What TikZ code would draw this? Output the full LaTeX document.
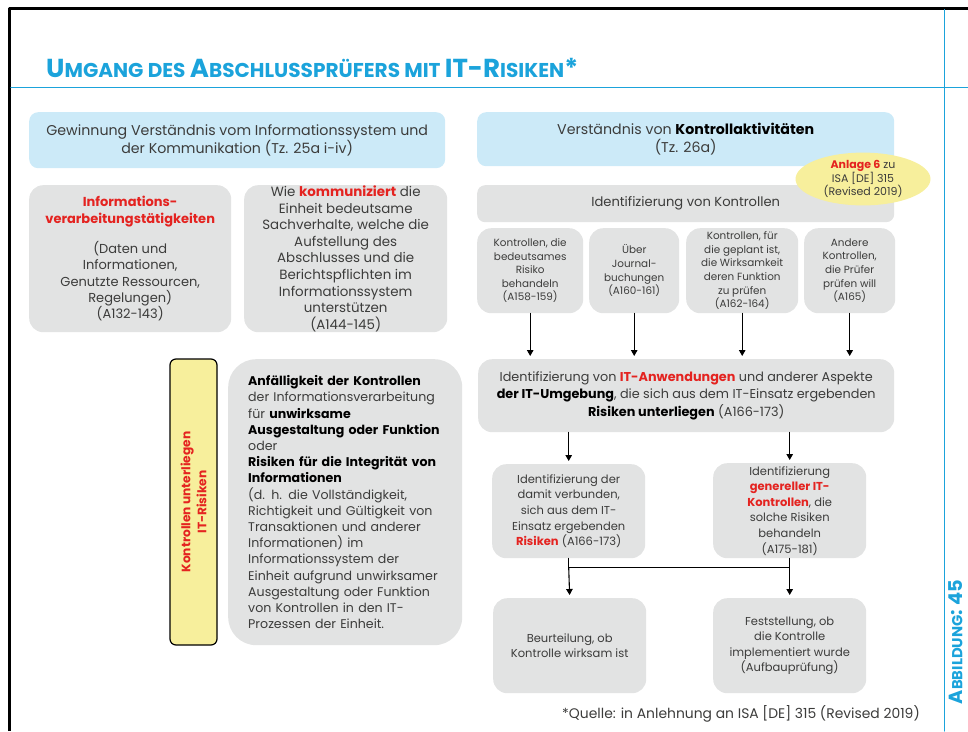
\documentclass[tikz,border=0pt]{standalone}
\usepackage{fontspec}
\setmainfont{Poppins}
\usepackage{graphicx}
\usepackage{xcolor}
\usetikzlibrary{arrows.meta,shapes.geometric}
\definecolor{boxgray}{HTML}{E2E3E3}
\definecolor{boxblue}{HTML}{CCEAF8}
\definecolor{isablue}{HTML}{1BA3DB}
\definecolor{hlred}{HTML}{E42320}
\definecolor{noteyellow}{HTML}{F7EF9C}
\definecolor{txtgray}{HTML}{3C3C3B}
\newcommand{\fs}[2]{\fontsize{#1}{#2}\selectfont}
\newcommand{\hl}[1]{\textcolor{hlred}{\bfseries #1}}
\newcommand{\bk}[1]{\textcolor{black}{\bfseries #1}}
\newcommand{\tbig}[1]{{\fs{26}{26}#1}}
\newcommand{\tsml}[1]{{\fs{20}{20}#1}}

\begin{document}
\begin{tikzpicture}[x=1pt,y=-1pt,line cap=round,line join=round,>={Triangle[length=6pt,width=6.5pt]},
  gbox/.style={fill=boxgray,rounded corners=14pt,anchor=north west,inner sep=0pt,align=center,text=txtgray},
  bbox/.style={gbox,fill=boxblue,rounded corners=9pt},
  kbox/.style={gbox,minimum height=85pt,font=\fs{10.4}{13.6}},
  link/.style={->,line width=1.1pt,shorten >=3pt}]
\useasboundingbox (0,0) rectangle (968,731);
% frame
\draw[line width=2.8pt,line cap=butt] (9.5,731) -- (9.5,8.3) -- (968,8.3);
\draw[isablue,line width=1pt] (944,9.5) -- (944,731);
\draw[isablue,line width=1.3pt] (11,87.3) -- (968,87.3);
\node[anchor=base west,inner sep=0pt,text=isablue,font=\bfseries] (titel) at (46,77)
  {\resizebox{532pt}{\height}{\tbig{U}\tsml{MGANG DES }\tbig{A}\tsml{BSCHLUSSPRÜFERS MIT }\tbig{IT-R}\tsml{ISIKEN}\tbig{*}}};
\node[rotate=90,inner sep=0pt,text=isablue,font=\bfseries] (abb) at (955.5,642)
  {\resizebox{124pt}{\height}{{\fs{19}{19}A}{\fs{14.5}{14.5}BBILDUNG}{\fs{19}{19}: 45}}};

% left column
\node[bbox,minimum width=416pt,minimum height=56pt,font=\fs{14.2}{18}] (gewinn) at (29,112)
  {Gewinnung Verständnis vom Informationssystem und\\der Kommunikation (Tz. 25a i-iv)};
\node[gbox,minimum width=202pt,minimum height=147pt,font=\fs{13}{16.3}] (infov) at (29,185)
  {\hl{Informations-}\\\hl{verarbeitungstätigkeiten}\\[14pt](Daten und\\Informationen,\\Genutzte Ressourcen,\\Regelungen)\\(A132-143)};
\node[gbox,minimum width=203pt,minimum height=147pt,font=\fs{13.4}{16.6}] (kommu) at (244,185)
  {Wie \hl{kommuniziert} die\\Einheit bedeutsame\\Sachverhalte, welche die\\Aufstellung des\\Abschlusses und die\\Berichtspflichten im\\Informationssystem\\unterstützen\\(A144-145)};
\node[rotate=90,fill=noteyellow,draw=black,line width=1.2pt,rounded corners=6pt,minimum width=286pt,minimum height=47pt,
  inner sep=0pt,align=center,text=hlred,font=\fs{12.2}{16}\bfseries] (itrisiken) at (193.5,502)
  {Kontrollen unterliegen\\IT-Risiken};
\node[gbox,rounded corners=28pt,minimum width=234pt,minimum height=286pt,text width=194pt,align=left,font=\fs{12.6}{16.2}] (anfall) at (228,359)
  {\bk{Anfälligkeit der Kontrollen}\\der Informationsverarbeitung\\für \bk{unwirksame}\\\bk{Ausgestaltung oder Funktion}\\oder\\
   \bk{Risiken für die Integrität von}\\\bk{Informationen}\\(d. h. die Vollständigkeit,\\Richtigkeit und Gültigkeit von\\Transaktionen und anderer\\
   Informationen) im\\Informationssystem der\\Einheit aufgrund unwirksamer\\Ausgestaltung oder Funktion\\von Kontrollen in den IT-\\Prozessen der Einheit.};

% right column
\node[bbox,minimum width=417pt,minimum height=54pt,font=\fs{14.2}{18}] (kontrakt) at (477,112)
  {Verständnis von \bk{Kontrollaktivitäten}\\(Tz. 26a)};
\node[gbox,rounded corners=8pt,minimum width=417pt,minimum height=37pt,font=\fs{13.1}{16}] (identk) at (477,185)
  {Identifizierung von Kontrollen};
\node[ellipse,fill=noteyellow,minimum width=135pt,minimum height=52pt,inner sep=0pt,align=center,text=txtgray,font=\fs{11}{12.8}] (anlage) at (863,179)
  {\hl{Anlage 6} zu\\ISA [DE] 315\\(Revised 2019)};
\node[kbox,minimum width=106pt] (k1) at (477,228) {Kontrollen, die\\bedeutsames\\Risiko\\behandeln\\(A158-159)};
\node[kbox,minimum width=90pt] (k2) at (589,228) {Über\\Journal-\\buchungen\\(A160-161)};
\node[kbox,minimum width=112pt] (k3) at (686,228) {Kontrollen, für\\die geplant ist,\\die Wirksamkeit\\deren Funktion\\zu prüfen\\(A162-164)};
\node[kbox,minimum width=91pt] (k4) at (804,228) {Andere\\Kontrollen,\\die Prüfer\\prüfen will\\(A165)};
\node[gbox,minimum width=416pt,minimum height=73pt,font=\fs{12.8}{17.5}] (itumg) at (478,359)
  {Identifizierung von \hl{IT-Anwendungen} und anderer Aspekte\\\bk{der IT-Umgebung}, die sich aus dem IT-Einsatz ergebenden\\\bk{Risiken unterliegen} (A166-173)};
\node[gbox,minimum width=153pt,minimum height=94pt,font=\fs{11.5}{15.6}] (risiken) at (492,464)
  {Identifizierung der\\damit verbunden,\\sich aus dem IT-\\Einsatz ergebenden\\\hl{Risiken} (A166-173)};
\node[gbox,minimum width=153pt,minimum height=95pt,font=\fs{11.5}{15.6}] (gitc) at (713,463)
  {Identifizierung\\\hl{genereller IT-}\\\hl{Kontrollen}, die\\solche Risiken\\behandeln\\(A175-181)};
\node[gbox,minimum width=153pt,minimum height=95pt,font=\fs{11.5}{15.6}] (wirksam) at (493,598)
  {Beurteilung, ob\\Kontrolle wirksam ist};
\node[gbox,minimum width=153pt,minimum height=95pt,font=\fs{11.5}{15.6}] (aufbau) at (713,598)
  {Feststellung, ob\\die Kontrolle\\implementiert wurde\\(Aufbauprüfung)};
\node[anchor=base east,inner sep=0pt,text=txtgray,font=\fs{13.9}{15}] (quelle) at (920,718)
  {*Quelle: in Anlehnung an ISA [DE] 315 (Revised 2019)};

\foreach \k in {k1,k2,k3,k4}
  \draw[link] (\k.south) -- (\k.south |- itumg.north);
\draw[link] (itumg.south -| risiken.north) -- (risiken.north);
\draw[link] (itumg.south -| gitc.north) -- (gitc.north);
\draw[line width=1.1pt] (risiken.south) -- ++(0,9) coordinate (jl) -| (gitc.south);
\draw[link] (jl) -- (wirksam.north);
\draw[link] (jl -| gitc.south) -- (aufbau.north);
\end{tikzpicture}
\end{document}
